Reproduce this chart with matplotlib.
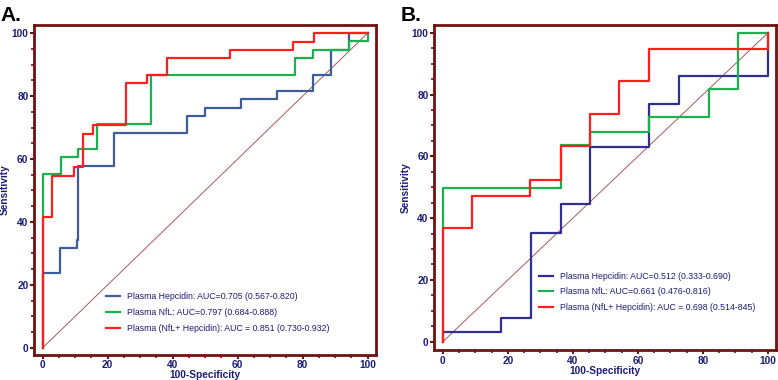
import numpy as np
import matplotlib
matplotlib.use("Agg")
import matplotlib.pyplot as plt
from matplotlib.ticker import MultipleLocator

plt.rcParams['font.family'] = ['Liberation Sans', 'DejaVu Sans']

# panel A: step corners (100-specificity, sensitivity)
a_hep_x = [0, 0, 5.3, 10.5, 11, 22, 44.3, 50, 60.9, 72, 83.3, 88.7, 94.3, 100]
a_hep_y = [0, 23.6, 31.6, 34.2, 57.9, 68.4, 73.7, 76.3, 79, 81.7, 86.7, 94.7, 100, 100]
a_nfl_x = [0, 0, 5.5, 11, 16.6, 33.3, 77.6, 83.3, 94.3, 100, 100]
a_nfl_y = [0, 55.2, 60.5, 63.2, 71.2, 86.7, 92, 94.7, 97.4, 100, 100]
a_comb_x = [0, 0, 2.8, 9.6, 12.5, 15.6, 25.6, 32, 38.4, 57.6, 77.1, 83.6, 100]
a_comb_y = [0, 41.5, 54.7, 57.6, 68, 70.8, 84.1, 86.7, 92, 94.7, 97.3, 100, 100]

# panel B
b_hep_x = [0, 0, 17.9, 27.1, 36.2, 45.2, 63.5, 72.7, 100, 100]
b_hep_y = [0, 3.2, 7.8, 35.3, 44.6, 63.1, 76.8, 86.1, 100, 100]
b_nfl_x = [0, 0, 36.2, 45.2, 63.5, 81.8, 90.8, 100]
b_nfl_y = [0, 49.8, 63.6, 68, 72.6, 81.7, 100, 100]
b_comb_x = [0, 0, 8.9, 26.8, 36.2, 45.2, 54.2, 63.5, 100, 100]
b_comb_y = [0, 36.7, 47.2, 52.5, 63.4, 73.6, 84.4, 94.6, 100, 100]

a_labels = ["Plasma Hepcidin: AUC=0.705 (0.567-0.820)",
            "Plasma NfL: AUC=0.797 (0.684-0.888)",
            "Plasma (NfL+ Hepcidin): AUC = 0.851 (0.730-0.932)"]
b_labels = ["Plasma Hepcidin: AUC=0.512 (0.333-0.690)",
            "Plasma NfL: AUC=0.661 (0.476-0.816)",
            "Plasma (NfL+ Hepcidin): AUC = 0.698 (0.514-845)"]

frame_col = "#6e1212"
text_col = "#1c1c78"
green = "#1db04f"
red = "#ff1e1e"

fig = plt.figure(figsize=(7.78, 3.80), dpi=100)


def draw_panel(rect, curves, labels, blue, letter, leg_anchor, ylim):
    ax = fig.add_axes(rect)
    ax.plot([0, 100], [0, 100], color="#a85a5a", lw=0.7)
    cols = [blue, green, red]
    for (xs, ys), col, lab in zip(curves, cols, labels):
        ax.plot(xs, ys, drawstyle="steps-post", color=col, lw=1.6, label=lab)
    ax.set_xlim(-2.7, 102.6)
    ax.set_ylim(*ylim)
    ax.xaxis.set_major_locator(MultipleLocator(20))
    ax.yaxis.set_major_locator(MultipleLocator(20))
    ax.xaxis.set_minor_locator(MultipleLocator(5))
    ax.yaxis.set_minor_locator(MultipleLocator(5))
    ax.tick_params(which="major", length=3, width=1.5, color=frame_col,
                   labelsize=7.3, labelcolor=text_col, pad=1)
    ax.tick_params(which="minor", length=2, width=1.2, color=frame_col)
    for lab in ax.get_xticklabels() + ax.get_yticklabels():
        lab.set_fontweight("bold")
    for s in ax.spines.values():
        s.set_color(frame_col)
        s.set_linewidth(2)
    ax.set_xlabel("100-Specificity", fontsize=7.3, fontweight="bold",
                  color=text_col, labelpad=0)
    ax.set_ylabel("Sensitivity", fontsize=7.3, fontweight="bold",
                  color=text_col, labelpad=1)
    leg = ax.legend(loc="upper left", bbox_to_anchor=leg_anchor, frameon=False,
                    fontsize=6.3, handlelength=1.6, handletextpad=0.8,
                    labelspacing=0.75, borderaxespad=0)
    for t in leg.get_texts():
        t.set_color(text_col)
    fig.text(rect[0] - 0.043, 0.985, letter, fontsize=15, fontweight="bold",
             va="top", ha="left")
    return ax


draw_panel([0.0437, 0.066, 0.4396, 0.868],
           [(a_hep_x, a_hep_y), (a_nfl_x, a_nfl_y), (a_comb_x, a_comb_y)],
           a_labels, "#3c5c9e", "A.", (0.2, 0.2), (-2.3, 102.6))
draw_panel([0.558, 0.079, 0.440, 0.855],
           [(b_hep_x, b_hep_y), (b_nfl_x, b_nfl_y), (b_comb_x, b_comb_y)],
           b_labels, "#2e3192", "B.", (0.295, 0.252), (-2.7, 102.5))

fig.savefig("out.png", dpi=100)
